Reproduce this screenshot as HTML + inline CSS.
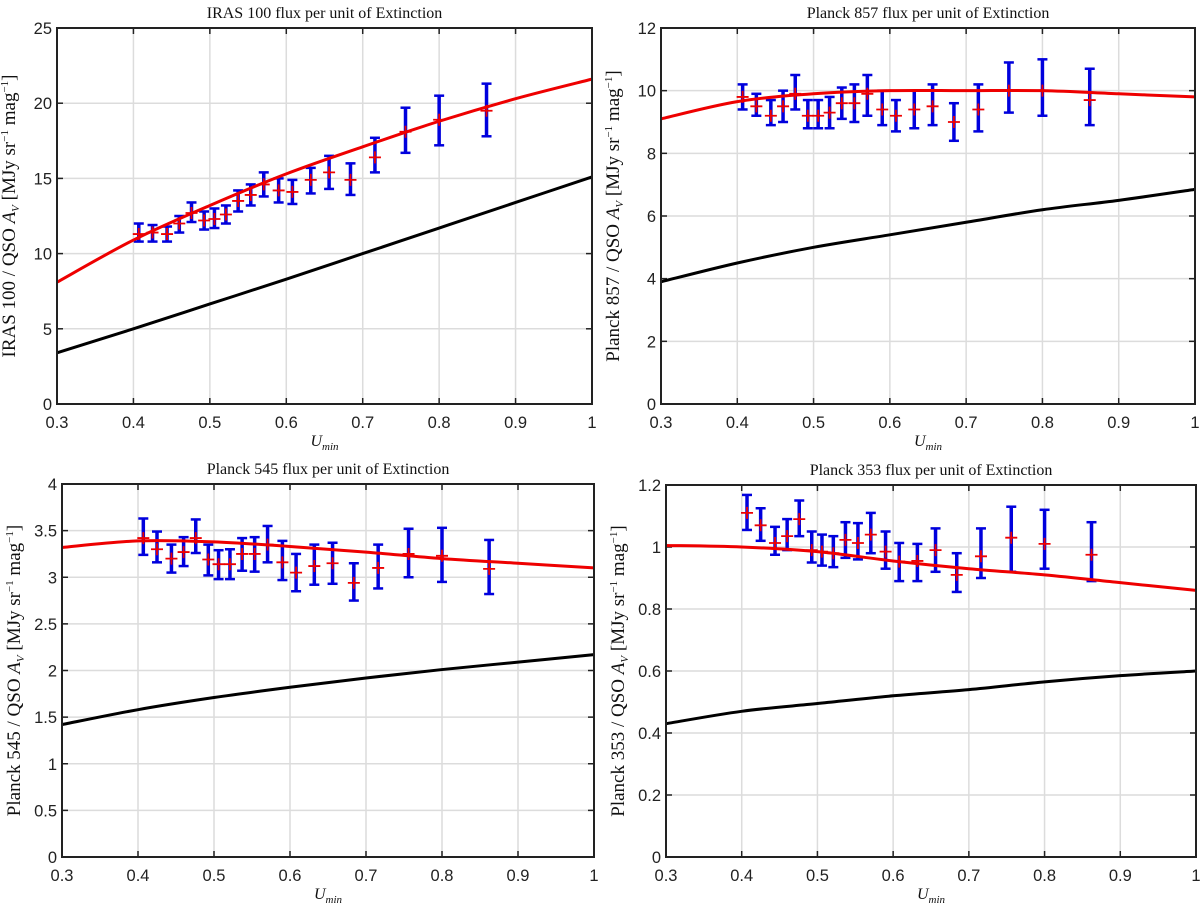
<!DOCTYPE html>
<html><head><meta charset="utf-8"><style>
body{margin:0;background:#fff;}
svg{display:block;font-family:"Liberation Sans",sans-serif;}
.tk{font-size:16.5px;fill:#222;}
.tt{font-family:"Liberation Serif",serif;font-size:16px;fill:#111;}
</style></head><body>
<svg id="fig" width="1200" height="906"></svg>
<script>
const xData=[0.407,0.425,0.444,0.460,0.476,0.4925,0.506,0.521,0.537,0.5535,0.5705,0.590,0.608,0.632,0.656,0.684,0.716,0.756,0.800,0.862];
const modelX=[0.3,0.4,0.5,0.6,0.7,0.8,0.9,1.0];

const irasVal=[11.3,11.4,11.3,12.0,12.7,12.2,12.3,12.6,13.5,13.9,14.6,14.2,14.1,14.9,15.4,14.9,16.4,18.1,18.9,19.5];
const irasHi=[12.0,11.9,11.8,12.5,13.4,12.8,13.0,13.2,14.2,14.6,15.4,15.0,14.9,15.7,16.5,16.0,17.7,19.7,20.5,21.3];
const irasLo=[10.8,10.8,10.8,11.4,12.1,11.6,11.7,12.0,12.8,13.2,13.8,13.4,13.3,14.0,14.3,13.9,15.4,16.7,17.2,17.8];
const irasFit=[8.1,10.9,13.2,15.3,17.1,18.8,20.3,21.6];
const irasModel=[3.4,5.0,6.65,8.3,10.0,11.7,13.4,15.1];

const p857Val=[9.8,9.5,9.2,9.5,9.9,9.2,9.2,9.3,9.6,9.6,9.9,9.4,9.2,9.4,9.5,9.0,9.4,10.0,10.0,9.7];
const p857Hi=[10.2,9.9,9.7,10.0,10.5,9.7,9.7,9.8,10.1,10.2,10.5,10.0,9.7,10.0,10.2,9.6,10.2,10.9,11.0,10.7];
const p857Lo=[9.4,9.2,8.9,9.0,9.4,8.8,8.8,8.8,9.1,9.0,9.2,8.9,8.7,8.8,8.9,8.4,8.7,9.3,9.2,8.9];
const p857Fit=[9.1,9.65,9.9,10.0,10.0,10.0,9.9,9.8];
const p857Model=[3.9,4.5,5.0,5.4,5.8,6.2,6.5,6.85];

const p545Val=[3.42,3.30,3.20,3.27,3.42,3.19,3.14,3.14,3.25,3.25,3.35,3.16,3.05,3.12,3.15,2.94,3.10,3.25,3.23,3.09];
const p545Hi=[3.63,3.49,3.35,3.43,3.62,3.35,3.29,3.30,3.42,3.43,3.55,3.39,3.25,3.35,3.37,3.15,3.35,3.52,3.53,3.40];
const p545Lo=[3.24,3.16,3.05,3.12,3.26,3.02,2.98,2.98,3.07,3.06,3.16,2.97,2.85,2.92,2.93,2.75,2.88,3.00,2.95,2.82];
const p545Fit=[3.32,3.39,3.38,3.33,3.27,3.20,3.15,3.10];
const p545Model=[1.42,1.58,1.71,1.82,1.92,2.01,2.09,2.17];

const p353Val=[1.11,1.07,1.013,1.035,1.09,0.99,0.985,0.98,1.023,1.013,1.04,0.985,0.953,0.955,0.99,0.91,0.97,1.03,1.01,0.975];
const p353Hi=[1.168,1.125,1.065,1.09,1.15,1.05,1.04,1.035,1.08,1.077,1.11,1.05,1.013,1.01,1.06,0.98,1.06,1.13,1.12,1.08];
const p353Lo=[1.055,1.02,0.975,0.99,1.035,0.95,0.94,0.935,0.965,0.96,0.98,0.93,0.89,0.89,0.92,0.855,0.90,0.92,0.93,0.89];
const p353Fit=[1.005,1.0,0.985,0.955,0.93,0.91,0.885,0.86];
const p353Model=[0.43,0.47,0.495,0.52,0.54,0.565,0.585,0.60];

const xTicks=[0.3,0.4,0.5,0.6,0.7,0.8,0.9,1];
const xTickLabels=["0.3","0.4","0.5","0.6","0.7","0.8","0.9","1"];

const NS="http://www.w3.org/2000/svg";
const svg=document.getElementById('fig');
function mk(tag,attrs,parent){const e=document.createElementNS(NS,tag);for(const k in attrs)e.setAttribute(k,attrs[k]);(parent||svg).appendChild(e);return e;}

const panels=[
 {key:'iras-100',x0:57,x1:592,y0:28,y1:404,ymax:25,ystep:5,title:'IRAS 100 flux per unit of Extinction',band:'IRAS 100',v:irasVal,hi:irasHi,lo:irasLo,fit:irasFit,mod:irasModel},
 {key:'planck-857',x0:661,x1:1195,y0:28,y1:404,ymax:12,ystep:2,title:'Planck 857 flux per unit of Extinction',band:'Planck 857',v:p857Val,hi:p857Hi,lo:p857Lo,fit:p857Fit,mod:p857Model},
 {key:'planck-545',x0:62,x1:594,y0:484,y1:857,ymax:4,ystep:0.5,title:'Planck 545 flux per unit of Extinction',band:'Planck 545',v:p545Val,hi:p545Hi,lo:p545Lo,fit:p545Fit,mod:p545Model},
 {key:'planck-353',x0:666,x1:1196,y0:485,y1:857,ymax:1.2,ystep:0.2,title:'Planck 353 flux per unit of Extinction',band:'Planck 353',v:p353Val,hi:p353Hi,lo:p353Lo,fit:p353Fit,mod:p353Model}
];

function smoothPath(pts){
 let d=`M${pts[0][0]},${pts[0][1]}`;
 for(let i=0;i<pts.length-1;i++){
  const p0=pts[Math.max(0,i-1)],p1=pts[i],p2=pts[i+1],p3=pts[Math.min(pts.length-1,i+2)];
  const c1=[p1[0]+(p2[0]-p0[0])/6,p1[1]+(p2[1]-p0[1])/6];
  const c2=[p2[0]-(p3[0]-p1[0])/6,p2[1]-(p3[1]-p1[1])/6];
  d+=` C${c1[0]},${c1[1]} ${c2[0]},${c2[1]} ${p2[0]},${p2[1]}`;
 }
 return d;
}

panels.forEach(P=>{
 const g=mk('g',{});
 
 
 const xs=v=>P.x0+(v-0.3)/0.7*(P.x1-P.x0);
 const ys=v=>P.y1-v/P.ymax*(P.y1-P.y0);
 xTicks.forEach((t,i)=>{
  const X=xs(t);
  if(i>0&&i<xTicks.length-1){const l=mk('line',{x1:X,x2:X,y1:P.y0,y2:P.y1,stroke:'#dcdcdc','stroke-width':1.5},g);}
  mk('line',{x1:X,x2:X,y1:P.y1,y2:P.y1-6,stroke:'#222','stroke-width':1.5},g);
  mk('line',{x1:X,x2:X,y1:P.y0,y2:P.y0+6,stroke:'#222','stroke-width':1.5},g);
  const tx=mk('text',{x:X,y:P.y1+24,'text-anchor':'middle',class:'tk'},g);tx.textContent=xTickLabels[i];
  
 });
 const n=Math.round(P.ymax/P.ystep);
 for(let i=0;i<=n;i++){
  const v=i*P.ystep,Y=ys(v);
  if(i>0&&i<n){const l=mk('line',{x1:P.x0,x2:P.x1,y1:Y,y2:Y,stroke:'#dcdcdc','stroke-width':1.5},g);}
  mk('line',{x1:P.x0,x2:P.x0+6,y1:Y,y2:Y,stroke:'#222','stroke-width':1.5},g);
  mk('line',{x1:P.x1,x2:P.x1-6,y1:Y,y2:Y,stroke:'#222','stroke-width':1.5},g);
  let lab=(v===0)?'0':(Math.abs(v-Math.round(v))<1e-9?String(Math.round(v)):v.toFixed(1));
  const tx=mk('text',{x:P.x0-5,y:Y+6,'text-anchor':'end',class:'tk'},g);tx.textContent=lab;
  
 }
 const mp=mk('path',{d:smoothPath(modelX.map((x,i)=>[xs(x),ys(P.mod[i])])),fill:'none',stroke:'#000','stroke-width':3},g);
 
 xData.forEach((x,i)=>{
  const X=xs(x);
  const eb=mk('g',{},g);
  
  mk('line',{x1:X,x2:X,y1:ys(P.hi[i]),y2:ys(P.lo[i]),stroke:'#0000dd','stroke-width':3.5},eb);
  [P.hi[i],P.lo[i]].forEach(v=>mk('line',{x1:X-5,x2:X+5,y1:ys(v),y2:ys(v),stroke:'#0000dd','stroke-width':2.5},eb));
 });
 const fp=mk('path',{d:smoothPath(modelX.map((x,i)=>[xs(x),ys(P.fit[i])])),fill:'none',stroke:'#ee0000','stroke-width':3},g);
 
 xData.forEach((x,i)=>{
  const X=xs(x),Y=ys(P.v[i]);
  const m=mk('path',{d:`M${X-6},${Y}H${X+6}M${X},${Y-6}V${Y+6}`,stroke:'#ee0000','stroke-width':1.8},g);
  
 });
 const bx=mk('rect',{x:P.x0,y:P.y0,width:P.x1-P.x0,height:P.y1-P.y0,fill:'none',stroke:'#222','stroke-width':2},g);
 
 const t=mk('text',{x:(P.x0+P.x1)/2,y:P.y0-10,'text-anchor':'middle',class:'tt'},g);t.textContent=P.title;
 
 const xl=mk('text',{x:(P.x0+P.x1)/2,y:P.y1+42,'text-anchor':'middle',class:'tt','font-style':'italic'},g);
 xl.innerHTML='U<tspan font-size="11" dy="4">min</tspan>';
 
 const cy=(P.y0+P.y1)/2,cx=P.x0-42;
 const yl=mk('text',{x:cx,y:cy,'text-anchor':'middle',class:'tt',transform:`rotate(-90 ${cx} ${cy})`},g);
 yl.innerHTML=P.band+' / QSO <tspan font-style="italic">A</tspan><tspan font-size="11" dy="4" font-style="italic">V</tspan><tspan dy="-4"> [MJy sr</tspan><tspan font-size="11" dy="-7">−1</tspan><tspan dy="7"> mag</tspan><tspan font-size="11" dy="-7">−1</tspan><tspan dy="7">]</tspan>';
 yl.style.fontSize='19px';
 
});
</script>
</body></html>
